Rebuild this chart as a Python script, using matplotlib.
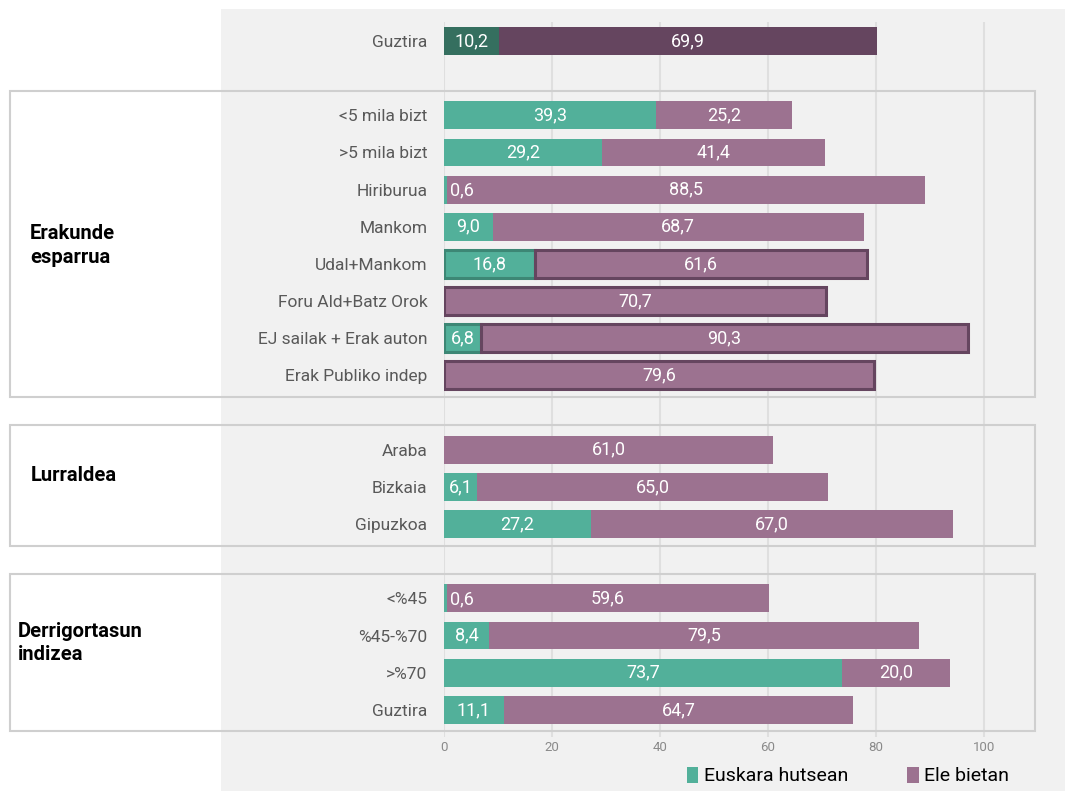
import matplotlib
matplotlib.use('Agg')
import matplotlib.pyplot as plt
from matplotlib.patches import Rectangle, Patch
from matplotlib.transforms import blended_transform_factory
from matplotlib import rcParams

rcParams['font.family'] = 'sans-serif'
rcParams['font.sans-serif'] = ['Roboto']

# rows of the chart, top to bottom
labels = ['Guztira',
          '<5 mila bizt', '>5 mila bizt', 'Hiriburua', 'Mankom', 'Udal+Mankom',
          'Foru Ald+Batz Orok', 'EJ sailak + Erak auton', 'Erak Publiko indep',
          'Araba', 'Bizkaia', 'Gipuzkoa',
          '<%45', '%45-%70', '>%70', 'Guztira']
rows = [0, 2, 3, 4, 5, 6, 7, 8, 9, 11, 12, 13, 15, 16, 17, 18]
euskara = [10.2, 39.3, 29.2, 0.6, 9.0, 16.8, 0.0, 6.8, 0.0,
           0.0, 6.1, 27.2, 0.6, 8.4, 73.7, 11.1]
bietan = [69.9, 25.2, 41.4, 88.5, 68.7, 61.6, 70.7, 90.3, 79.6,
          61.0, 65.0, 67.0, 59.6, 79.5, 20.0, 64.7]
outlined = ['Udal+Mankom', 'Foru Ald+Batz Orok', 'EJ sailak + Erak auton', 'Erak Publiko indep']

groups = ['Erakunde\nesparrua', 'Lurraldea', 'Derrigortasun\nindizea']
group_rows = [(2, 9), (11, 13), (15, 18)]

TEAL = '#52b09a'
PURPLE = '#9c7290'
TEAL_DARK = '#356f5f'
PURPLE_DARK = '#65455f'

W, H = 1065, 791
fig = plt.figure(figsize=(W / 100, H / 100), dpi=100)

# gray panel behind the bars
fig.patches.append(Rectangle((221 / W, 0), (W - 221) / W, (H - 9) / H,
                             transform=fig.transFigure, facecolor='#f1f1f1',
                             edgecolor='none', zorder=-10))

ax = fig.add_axes([444 / W, (H - 737) / H, (1035 - 444) / W, (737 - 22) / H])
ax.set_facecolor('none')
ax.set_xlim(0, (1035 - 444) / 5.4)
ax.set_ylim(18.73, -0.51)
for s in ax.spines.values():
    s.set_visible(False)
ax.set_xticks([0, 20, 40, 60, 80, 100])
ax.grid(axis='x', color='#dfdfdf', linewidth=1.5, zorder=0)
ax.set_axisbelow(True)
ax.tick_params(axis='x', length=0, pad=3, labelsize=9.5, labelcolor='#8a8a8a')
ax.set_yticks(rows)
ax.set_yticklabels(labels)
ax.tick_params(axis='y', length=0, pad=12, labelsize=12.5, labelcolor='#595959')

def fmt(v):
    return ('%.1f' % v).replace('.', ',')

for i, (lab, r, e, b) in enumerate(zip(labels, rows, euskara, bietan)):
    ct = TEAL_DARK if i == 0 else TEAL
    cp = PURPLE_DARK if i == 0 else PURPLE
    if lab in outlined:
        ax.barh(r, e, height=0.75, color=ct, edgecolor='#3d8775', linewidth=2.2, zorder=2)
        ax.barh(r, b, left=e, height=0.75, color=cp, edgecolor=PURPLE_DARK, linewidth=2.2, zorder=2)
    else:
        ax.barh(r, e, height=0.75, color=ct, zorder=2)
        ax.barh(r, b, left=e, height=0.75, color=cp, zorder=2)
    if e >= 3:
        ax.text(e / 2, r, fmt(e), ha='center', va='center', color='white', fontsize=13, zorder=3)
    elif e > 0:
        ax.text(e + 0.6, r + 0.02, fmt(e), ha='left', va='center', color='white', fontsize=13, zorder=3)
    ax.text(e + b / 2, r, fmt(b), ha='center', va='center', color='white', fontsize=13, zorder=3)

# group frames and titles
tr = blended_transform_factory(fig.transFigure, ax.transData)
group_x = [30, 31, 18]
group_shift = [0.0, -0.3, -0.3]
for g, (r0, r1), gx, dy in zip(groups, group_rows, group_x, group_shift):
    top = r0 - 0.66
    bottom = r1 + 0.58
    ax.add_patch(Rectangle((10 / W, top), (1035 - 10) / W, bottom - top, transform=tr,
                           facecolor='none', edgecolor='#cfcfcf', linewidth=1.5,
                           clip_on=False, zorder=1))
    ax.text(gx / W, (r0 + r1) / 2 + dy, g, transform=tr, ha='left', va='center',
            fontsize=14.5, fontweight='bold', color='black', linespacing=1.3)

handles = [Patch(facecolor=TEAL, label='Euskara hutsean'),
           Patch(facecolor=PURPLE, label='Ele bietan')]
fig.legend(handles=handles, loc='center', bbox_to_anchor=(848 / W, 1 - 776 / H), ncol=2,
           frameon=False, handlelength=0.6, handleheight=0.9, handletextpad=0.3,
           columnspacing=3.0, prop={'size': 14})

fig.savefig('out.png', dpi=100)
